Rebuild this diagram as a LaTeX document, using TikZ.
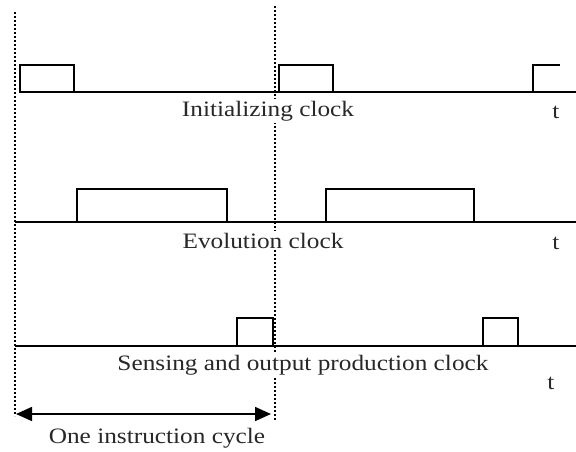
\documentclass[tikz,border=0pt]{standalone}
\usepackage{fontspec}
\setmainfont{Liberation Serif}[FakeStretch=1.15]
\usetikzlibrary{arrows.meta}
\definecolor{textcol}{RGB}{40, 40, 40}

\begin{document}
\begin{tikzpicture}[
        x=1pt, y=-1pt,
        %% Pixel grid: x to the right, y downwards, 576 x 451.
        baseline/.style={line width=1.9pt, color=black},
        pulse/.style={line width=1.5pt, color=black},
        marker/.style={line width=1.8pt, dash pattern=on 1.6pt off 2.4pt, color=black},
        cyclearrow/.style={{Triangle[length=16pt, width=14pt]}-{Triangle[length=16pt, width=14pt]}, line width=1.6pt},
        lbl/.style={anchor=base, text=textcol, fill=white, font=\fontsize{22}{26}\selectfont, inner sep=2pt}
    ]
    \useasboundingbox (0,0) rectangle (576,451);

    %% --- Cycle markers (dotted verticals) ---
    \draw[marker] (15,12) -- (15,416);
    \draw[marker] (275,6) -- (275,421);

    %% --- Initializing clock (row y=92) ---
    \draw[baseline] (19,92) -- (576,92);
    \draw[pulse] (20,92) rectangle (74,65);
    \draw[pulse] (279,92) rectangle (333,65);
    \draw[pulse] (533,92) -- (533,65) -- (560,65);
    \node[lbl] (initlbl) at (268,116) {Initializing clock};
    \node[lbl] (initt)   at (556,118) {t};

    %% --- Evolution clock (row y=222) ---
    \draw[baseline] (15,222) -- (576,222);
    \draw[pulse] (77,222) rectangle (227,189);
    \draw[pulse] (326,222) rectangle (474,189);
    \node[lbl] (evollbl) at (263,248) {Evolution clock};
    \node[lbl] (evolt)   at (556,249) {t};

    %% --- Sensing and output production clock (row y=346) ---
    \draw[baseline] (15,346) -- (576,346);
    \draw[pulse] (237,346) rectangle (273,318);
    \draw[pulse] (483,346) rectangle (518,318);
    \node[lbl] (senslbl) at (303,370) {Sensing and output production clock};
    \node[lbl] (senst)   at (551,389) {t};

    %% --- One instruction cycle ---
    \coordinate (cycstart) at (16,414);
    \coordinate (cycend)   at (271,414);
    \draw[cyclearrow] (cycstart) -- (cycend);
    \node[lbl] (cyclbl) at (157,443) {One instruction cycle};
\end{tikzpicture}
\end{document}
